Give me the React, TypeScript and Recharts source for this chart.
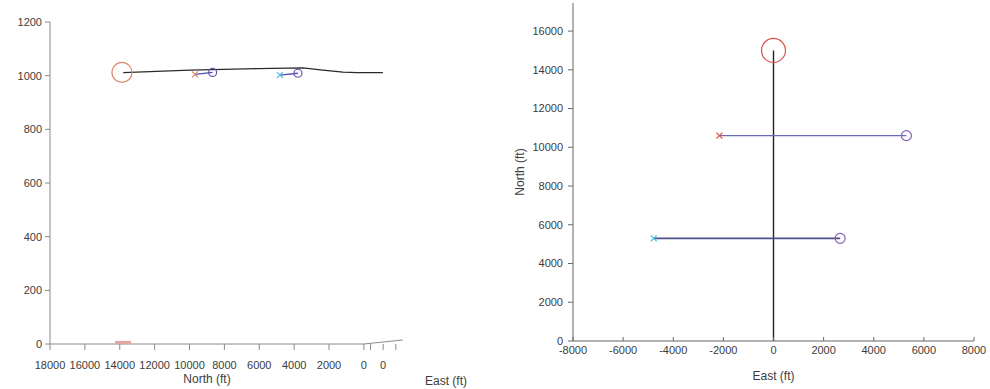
import { ScatterChart, Scatter, XAxis, YAxis, ReferenceLine, Label } from 'recharts';

// left panel: side view, North (ft) vs altitude
const NORTH_TICKS = [18000, 16000, 14000, 12000, 10000, 8000, 6000, 4000, 2000, 0];
const EAST_TICKS_SIDE = [-383, -1105, -1833];
const ALT_TICKS = [0, 200, 400, 600, 800, 1000, 1200];

const trajectorySide = [
  { n: 13800, alt: 1011 },
  { n: 9975, alt: 1021 },
  { n: 6100, alt: 1026 },
  { n: 3500, alt: 1029 },
  { n: 2350, alt: 1021 },
  { n: 1200, alt: 1013 },
  { n: 400, alt: 1011 },
  { n: -1090, alt: 1011 },
];
const startSide = [{ n: 13873, alt: 1012 }];
const shadowSide = [
  { n: 14274, alt: 6 },
  { n: 13357, alt: 6 },
];
const wp1Side = [
  { n: 9689, alt: 1005 },
  { n: 8674, alt: 1012 },
];
const wp2Side = [
  { n: 4816, alt: 1002 },
  { n: 3784, alt: 1009 },
];
const eastAxisSide = [
  { n: 0, alt: 0 },
  { n: -2230, alt: 15 },
];

// right panel: top view, East vs North
const EAST_TICKS = [-8000, -6000, -4000, -2000, 0, 2000, 4000, 6000, 8000];
const NORTH_TICKS_TOP = [0, 2000, 4000, 6000, 8000, 10000, 12000, 14000, 16000];

const trajectoryTop = [
  { e: 0, n: 0 },
  { e: 0, n: 15000 },
];
const startTop = [{ e: 0, n: 15000 }];
const wp1Top = [
  { e: -2159, n: 10601 },
  { e: 5302, n: 10601 },
];
const wp2Top = [
  { e: -4778, n: 5300 },
  { e: 2659, n: 5300 },
];

const FONT = '"Liberation Sans", Arial, sans-serif';
const TEXT = '#3c3c3c';
const AXIS = '#8a8a8a';

const none = () => <g />;

const circle = (r: number, color: string) => (p: any) =>
  <circle cx={p.cx} cy={p.cy} r={r} fill="none" stroke={color} strokeWidth={1.2} />;

const cross = (color: string, s = 3) => (p: any) => (
  <g stroke={color} strokeWidth={1.2}>
    <line x1={p.cx - s} y1={p.cy - s} x2={p.cx + s} y2={p.cy + s} />
    <line x1={p.cx - s} y1={p.cy + s} x2={p.cx + s} y2={p.cy - s} />
  </g>
);

// x mark first, circle last
const pairShape = (xColor: string, oColor: string, r: number) => (p: any) =>
  p.index === 0 ? cross(xColor)(p) : circle(r, oColor)(p);

function InwardTick(props: any) {
  const { x, y, payload } = props;
  return (
    <g>
      <line x1={x} y1={y} x2={x} y2={y - 4} stroke="#666" />
      <text x={x} y={y + 13} textAnchor="middle" fill={TEXT} fontSize={11} fontFamily={FONT}>
        {payload.value}
      </text>
    </g>
  );
}

export default function App() {
  return (
    <div style={{ position: 'absolute', left: 0, top: 0, width: 990, height: 389, background: '#fff' }}>
      <div style={{ position: 'absolute', left: 0, top: 0 }}>
        <ScatterChart width={480} height={389} margin={{ top: 22, right: 76, bottom: 0, left: 0 }}>
          <XAxis
            type="number"
            dataKey="n"
            domain={[-2300, 18000]}
            reversed
            ticks={[...NORTH_TICKS, ...EAST_TICKS_SIDE]}
            tickFormatter={(v) => (v === -1105 ? '0' : v < 0 ? '' : String(v))}
            axisLine={false}
            tickLine={{ stroke: AXIS }}
            tickSize={6}
            tickMargin={11}
            height={45}
            tick={{ fill: TEXT, fontSize: 11, fontFamily: FONT }}
            interval={0}
          >
            <Label value="North (ft)" position="insideBottom" offset={6} dx={-20} fill={TEXT} fontSize={12} fontFamily={FONT} />
          </XAxis>
          <YAxis
            type="number"
            dataKey="alt"
            domain={[0, 1200]}
            ticks={ALT_TICKS}
            width={50}
            axisLine={{ stroke: AXIS }}
            tickLine={{ stroke: AXIS }}
            tickSize={5}
            tickMargin={3}
            tick={{ fill: TEXT, fontSize: 11, fontFamily: FONT }}
          />
          <ReferenceLine segment={[{ x: 18000, y: 0 }, { x: 0, y: 0 }]} stroke={AXIS} ifOverflow="visible" />
          <ReferenceLine
            segment={[{ x: eastAxisSide[0].n, y: eastAxisSide[0].alt }, { x: eastAxisSide[1].n, y: eastAxisSide[1].alt }]}
            stroke={AXIS}
            ifOverflow="visible"
          />
          <Scatter data={shadowSide} line={{ stroke: '#e8a4a0', strokeWidth: 3 }} shape={none} isAnimationActive={false} />
          <Scatter data={trajectorySide} line={{ stroke: '#2b2b2b', strokeWidth: 1.3 }} shape={none} isAnimationActive={false} />
          <Scatter data={startSide} shape={circle(10, '#d98a6c')} isAnimationActive={false} />
          <Scatter data={wp1Side} line={{ stroke: '#5050b8', strokeWidth: 1.3 }} shape={pairShape('#e08a60', '#6a50b0', 4)} isAnimationActive={false} />
          <Scatter data={wp2Side} line={{ stroke: '#5050b8', strokeWidth: 1.3 }} shape={pairShape('#50b8e0', '#6a50b0', 4)} isAnimationActive={false} />
        </ScatterChart>
      </div>
      <div style={{ position: 'absolute', left: 425, top: 374, color: TEXT, fontSize: 12, fontFamily: FONT, whiteSpace: 'nowrap' }}>
        East (ft)
      </div>

      <div style={{ position: 'absolute', left: 500, top: 0 }}>
        <ScatterChart width={490} height={389} margin={{ top: 3, right: 16, bottom: 0, left: 0 }}>
          <XAxis
            type="number"
            dataKey="e"
            domain={[-8000, 8000]}
            ticks={EAST_TICKS}
            axisLine={{ stroke: '#666' }}
            tickLine={false}
            tickSize={0}
            tickMargin={0}
            tick={<InwardTick />}
            height={48}
            interval={0}
          >
            <Label value="East (ft)" position="insideBottom" offset={9} fill={TEXT} fontSize={12} fontFamily={FONT} />
          </XAxis>
          <YAxis
            type="number"
            dataKey="n"
            domain={[0, 17450]}
            ticks={NORTH_TICKS_TOP}
            width={73}
            axisLine={{ stroke: '#666' }}
            tickLine={{ stroke: '#666' }}
            tickSize={5}
            tickMargin={5}
            tick={{ fill: TEXT, fontSize: 11, fontFamily: FONT }}
            interval={0}
          >
            <Label
              value="North (ft)"
              angle={-90}
              position="insideLeft"
              offset={20}
              fill={TEXT}
              fontSize={12}
              fontFamily={FONT}
              style={{ textAnchor: 'middle' }}
            />
          </YAxis>
          <Scatter data={trajectoryTop} line={{ stroke: '#222', strokeWidth: 1.4 }} shape={none} isAnimationActive={false} />
          <Scatter data={startTop} shape={circle(12, '#d9534f')} isAnimationActive={false} />
          <Scatter data={wp1Top} line={{ stroke: '#6a6ab8', strokeWidth: 1.2 }} shape={pairShape('#d9534f', '#8060b8', 5)} isAnimationActive={false} />
          <Scatter data={wp2Top} line={{ stroke: '#50508c', strokeWidth: 1.8 }} shape={pairShape('#50b8e0', '#8060b8', 5)} isAnimationActive={false} />
        </ScatterChart>
      </div>
    </div>
  );
}
